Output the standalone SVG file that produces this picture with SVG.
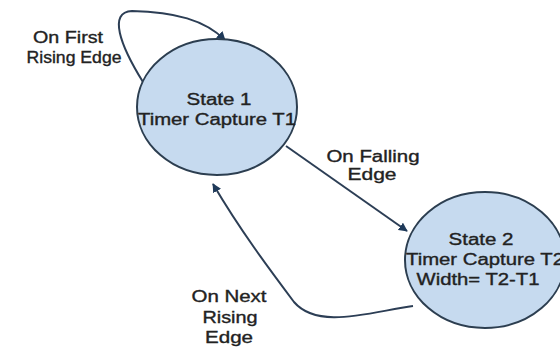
<svg xmlns="http://www.w3.org/2000/svg" width="560" height="348" viewBox="0 0 560 348">
<defs>
<marker id="arr" viewBox="0 0 10 10" refX="9" refY="5" markerWidth="9" markerHeight="9" markerUnits="userSpaceOnUse" orient="auto">
<path d="M0,0 L10,5 L0,10 z" fill="#1f3a5a"/>
</marker>
<style>
.st{fill:#c6daef;stroke:#2c3e50;stroke-width:2}
.t{font-family:"Liberation Sans",Arial,sans-serif;font-size:16px;fill:#222;stroke:#222;stroke-width:0.35;text-anchor:middle}
.e{fill:none;stroke:#2c3e55;stroke-width:2;marker-end:url(#arr)}
</style>
</defs>
<rect width="560" height="348" fill="#fff"/>
<g id="connectors">
<path class="e" d="M143,82 C120,45 108,12 132,11 C175,12 205,20 225,40"/>
<path class="e" d="M286,146 L407,231"/>
<path class="e" d="M413,306 C370,312 318,330 294,302 C270,270 240,230 213,184"/>
</g>
<g id="state1">
<ellipse class="st" cx="217" cy="107" rx="80" ry="68"/>
<text class="t" x="219" y="105" textLength="65" lengthAdjust="spacingAndGlyphs">State 1</text>
<text class="t" x="217" y="125" textLength="158" lengthAdjust="spacingAndGlyphs">Timer Capture T1</text>
</g>
<g id="state2">
<ellipse class="st" cx="485" cy="260" rx="80" ry="68"/>
<text class="t" x="481" y="245" textLength="65" lengthAdjust="spacingAndGlyphs">State 2</text>
<text class="t" x="485" y="265" textLength="158" lengthAdjust="spacingAndGlyphs">Timer Capture T2</text>
<text class="t" x="478" y="285" textLength="123" lengthAdjust="spacingAndGlyphs">Width= T2-T1</text>
</g>
<g id="labels">
<text class="t" x="68" y="43" textLength="70" lengthAdjust="spacingAndGlyphs">On First</text>
<text class="t" x="74" y="63" textLength="95" lengthAdjust="spacingAndGlyphs">Rising Edge</text>
<text class="t" x="373" y="162" textLength="93" lengthAdjust="spacingAndGlyphs">On Falling</text>
<text class="t" x="372" y="180" textLength="49" lengthAdjust="spacingAndGlyphs">Edge</text>
<text class="t" x="229" y="302" textLength="75" lengthAdjust="spacingAndGlyphs">On Next</text>
<text class="t" x="230" y="323" textLength="55" lengthAdjust="spacingAndGlyphs">Rising</text>
<text class="t" x="229" y="343" textLength="48" lengthAdjust="spacingAndGlyphs">Edge</text>
</g>
</svg>
